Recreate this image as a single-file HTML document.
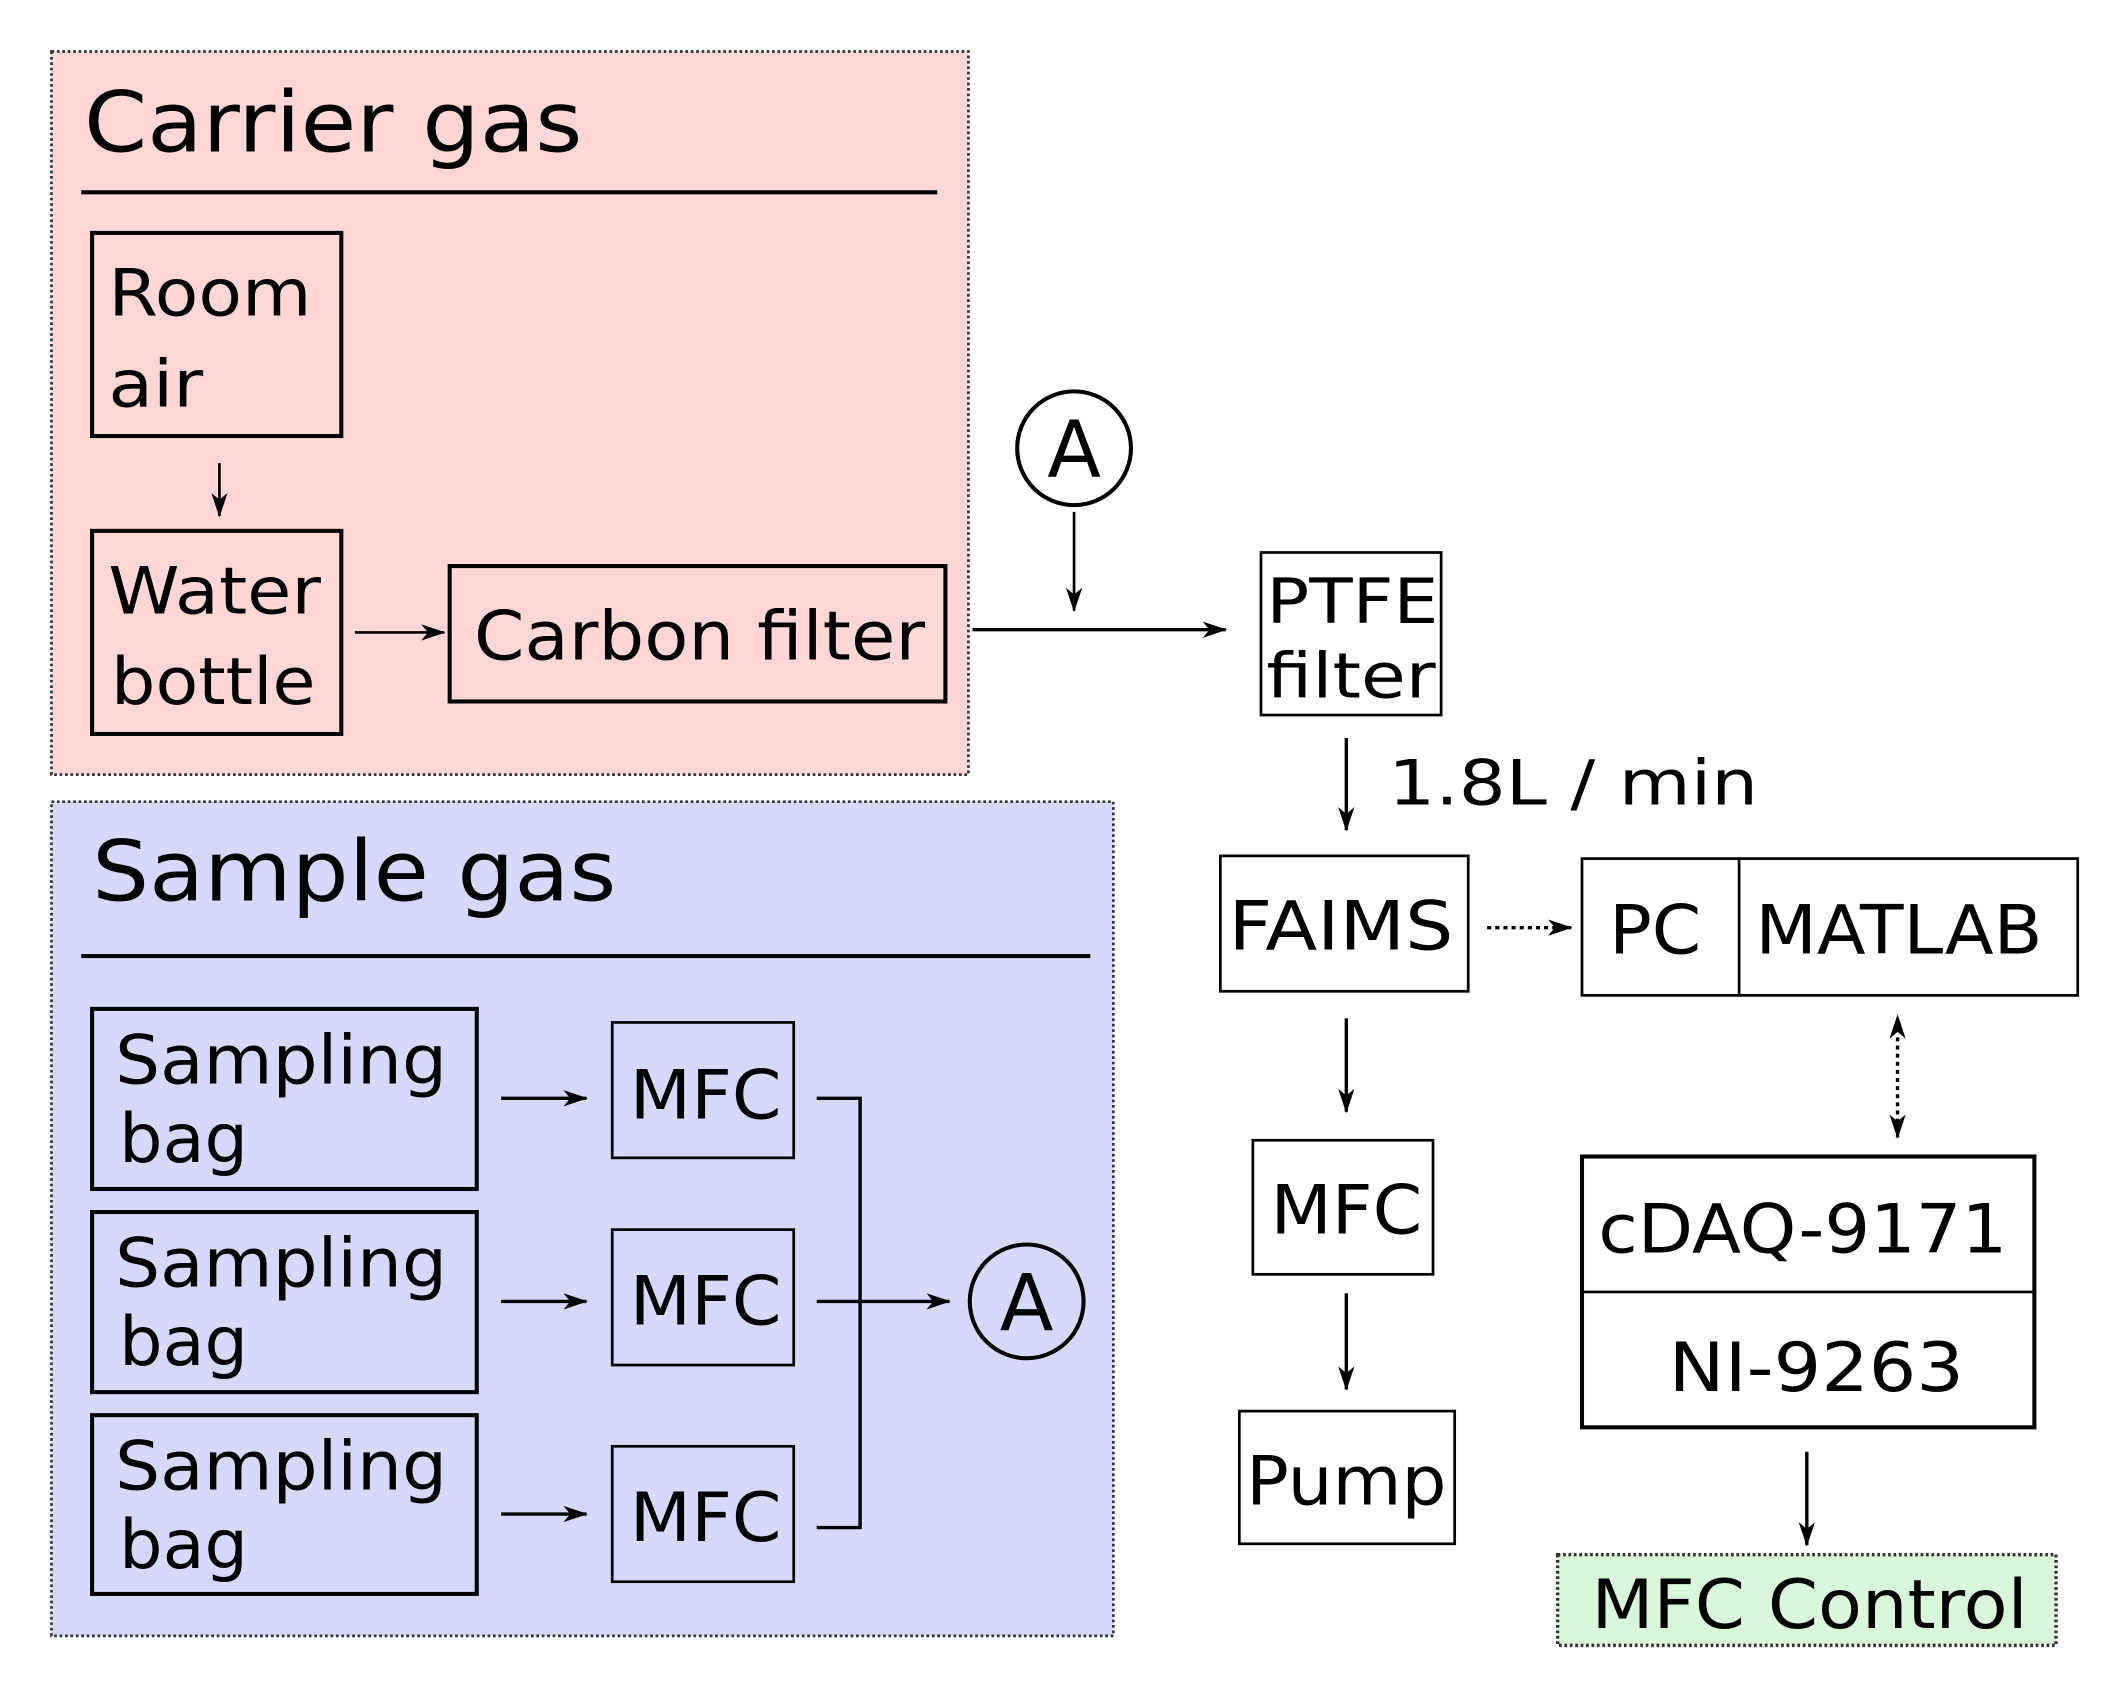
<!DOCTYPE html>
<html><head><meta charset="utf-8"><style>html,body{margin:0;padding:0;background:#fff}svg{display:block}</style></head>
<body>
<svg width="2117" height="1686" viewBox="0 0 1563 1245" preserveAspectRatio="none" xmlns="http://www.w3.org/2000/svg" font-family="'DejaVu Sans','Liberation Sans',sans-serif" fill="#000">
<defs>
<marker id="ah" markerWidth="18" markerHeight="12" refX="17" refY="6" orient="auto" markerUnits="userSpaceOnUse"><path d="M0,0 L18,6 L0,12 L5,6 Z" fill="#000"/></marker>
<marker id="ahs" markerWidth="18" markerHeight="12" refX="1" refY="6" orient="auto-start-reverse" markerUnits="userSpaceOnUse"><path d="M0,0 L18,6 L0,12 L5,6 Z" fill="#000"/></marker>
</defs>
<!-- Carrier gas -->
<rect x="38" y="38" width="677" height="534" fill="#ffd7d7" stroke="#333" stroke-width="2" stroke-dasharray="2,2"/>
<text x="62" y="112" font-size="62" textLength="368" lengthAdjust="spacingAndGlyphs">Carrier gas</text>
<line x1="60" y1="142" x2="692" y2="142" stroke="#000" stroke-width="3"/>
<rect x="68" y="172" width="184" height="150" fill="none" stroke="#000" stroke-width="3"/>
<text x="80" y="233" font-size="48" textLength="150" lengthAdjust="spacingAndGlyphs">Room</text><text x="80" y="300" font-size="48" textLength="70" lengthAdjust="spacingAndGlyphs">air</text>
<line x1="162" y1="342" x2="162" y2="381" stroke="#000" stroke-width="2" marker-end="url(#ah)"/>
<rect x="68" y="392" width="184" height="150" fill="none" stroke="#000" stroke-width="3"/>
<text x="80" y="453" font-size="48" textLength="157" lengthAdjust="spacingAndGlyphs">Water</text><text x="82" y="520" font-size="48" textLength="151" lengthAdjust="spacingAndGlyphs">bottle</text>
<line x1="262" y1="467" x2="328" y2="467" stroke="#000" stroke-width="2" marker-end="url(#ah)"/>
<rect x="332" y="418" width="366" height="100" fill="none" stroke="#000" stroke-width="3"/>
<text x="350" y="487" font-size="50" textLength="333" lengthAdjust="spacingAndGlyphs">Carbon filter</text>
<line x1="718" y1="465" x2="905" y2="465" stroke="#000" stroke-width="2.5" marker-end="url(#ah)"/>
<circle cx="793" cy="331" r="42" fill="#fff" stroke="#000" stroke-width="3"/>
<text x="793" y="352" font-size="58" text-anchor="middle">A</text>
<line x1="793" y1="378" x2="793" y2="451" stroke="#000" stroke-width="2" marker-end="url(#ah)"/>
<!-- right column -->
<rect x="931" y="408" width="133" height="120" fill="#fff" stroke="#000" stroke-width="2"/>
<text x="935" y="460" font-size="46" textLength="127" lengthAdjust="spacingAndGlyphs">PTFE</text><text x="935" y="515" font-size="46" textLength="125" lengthAdjust="spacingAndGlyphs">filter</text>
<line x1="994" y1="545" x2="994" y2="613" stroke="#000" stroke-width="2.5" marker-end="url(#ah)"/>
<text x="1025" y="594" font-size="46" textLength="273" lengthAdjust="spacingAndGlyphs">1.8L / min</text>
<rect x="901" y="632" width="183" height="100" fill="#fff" stroke="#000" stroke-width="2"/>
<text x="907" y="701" font-size="50" textLength="166" lengthAdjust="spacingAndGlyphs">FAIMS</text>
<line x1="1098" y1="685" x2="1160" y2="685" stroke="#000" stroke-width="2.5" stroke-dasharray="3,3" marker-end="url(#ah)"/>
<rect x="1168" y="634" width="366" height="101" fill="#fff" stroke="#000" stroke-width="2"/>
<line x1="1284" y1="634" x2="1284" y2="735" stroke="#000" stroke-width="2"/>
<text x="1188" y="704" font-size="50" textLength="68" lengthAdjust="spacingAndGlyphs">PC</text><text x="1296" y="704" font-size="50" textLength="212" lengthAdjust="spacingAndGlyphs">MATLAB</text>
<line x1="1401" y1="766" x2="1401" y2="840" stroke="#000" stroke-width="2.5" stroke-dasharray="3,3" marker-start="url(#ahs)" marker-end="url(#ah)"/>
<rect x="1168" y="854" width="334" height="200" fill="#fff" stroke="#000" stroke-width="3"/>
<line x1="1168" y1="954" x2="1502" y2="954" stroke="#000" stroke-width="2"/>
<text x="1180" y="925" font-size="50" textLength="302" lengthAdjust="spacingAndGlyphs">cDAQ-9171</text>
<text x="1232" y="1027" font-size="50" textLength="218" lengthAdjust="spacingAndGlyphs">NI-9263</text>
<line x1="1334" y1="1072" x2="1334" y2="1141" stroke="#000" stroke-width="2.5" marker-end="url(#ah)"/>
<rect x="1150" y="1148" width="368" height="67" fill="#d9f7d9" stroke="#333" stroke-width="2.5" stroke-dasharray="2,2"/>
<text x="1175" y="1202" font-size="50" textLength="322" lengthAdjust="spacingAndGlyphs">MFC Control</text>
<line x1="994" y1="752" x2="994" y2="821" stroke="#000" stroke-width="2.5" marker-end="url(#ah)"/>
<rect x="925" y="842" width="133" height="99" fill="#fff" stroke="#000" stroke-width="2"/>
<text x="938" y="911" font-size="50" textLength="112" lengthAdjust="spacingAndGlyphs">MFC</text>
<line x1="994" y1="955" x2="994" y2="1026" stroke="#000" stroke-width="2.5" marker-end="url(#ah)"/>
<rect x="915" y="1042" width="159" height="98" fill="#fff" stroke="#000" stroke-width="2"/>
<text x="920" y="1111" font-size="50" textLength="148" lengthAdjust="spacingAndGlyphs">Pump</text>
<!-- Sample gas -->
<rect x="38" y="592" width="784" height="616" fill="#d8d8fc" stroke="#333" stroke-width="2" stroke-dasharray="2,2"/>
<text x="68" y="665" font-size="62" textLength="387" lengthAdjust="spacingAndGlyphs">Sample gas</text>
<line x1="60" y1="706" x2="805" y2="706" stroke="#000" stroke-width="3"/>
<g stroke="#000" stroke-width="3" fill="none">
<rect x="68" y="745" width="284" height="133"/><rect x="68" y="895" width="284" height="133"/><rect x="68" y="1045" width="284" height="132"/>
<rect x="452" y="755" width="134" height="100" stroke-width="2"/><rect x="452" y="908" width="134" height="100" stroke-width="2"/><rect x="452" y="1068" width="134" height="100" stroke-width="2"/>
<polyline points="603,811 635,811 635,1128 603,1128" stroke-width="2.5"/>
</g>
<g font-size="50" lengthAdjust="spacingAndGlyphs">
<text x="85" y="800" textLength="245" lengthAdjust="spacingAndGlyphs">Sampling</text><text x="88" y="858" textLength="95" lengthAdjust="spacingAndGlyphs">bag</text>
<text x="85" y="950" textLength="245" lengthAdjust="spacingAndGlyphs">Sampling</text><text x="88" y="1008" textLength="95" lengthAdjust="spacingAndGlyphs">bag</text>
<text x="85" y="1100" textLength="245" lengthAdjust="spacingAndGlyphs">Sampling</text><text x="88" y="1158" textLength="95" lengthAdjust="spacingAndGlyphs">bag</text>
<text x="465" y="826" textLength="112" lengthAdjust="spacingAndGlyphs">MFC</text>
<text x="465" y="978" textLength="112" lengthAdjust="spacingAndGlyphs">MFC</text>
<text x="465" y="1138" textLength="112" lengthAdjust="spacingAndGlyphs">MFC</text>
</g>
<g stroke="#000" stroke-width="2.5">
<line x1="370" y1="811" x2="433" y2="811" marker-end="url(#ah)"/>
<line x1="370" y1="961" x2="433" y2="961" marker-end="url(#ah)"/>
<line x1="370" y1="1118" x2="433" y2="1118" marker-end="url(#ah)"/>
<line x1="603" y1="961" x2="701" y2="961" marker-end="url(#ah)"/>
</g>
<circle cx="758" cy="961" r="42" fill="none" stroke="#000" stroke-width="3"/>
<text x="758" y="982" font-size="58" text-anchor="middle">A</text>
</svg>
</body></html>
